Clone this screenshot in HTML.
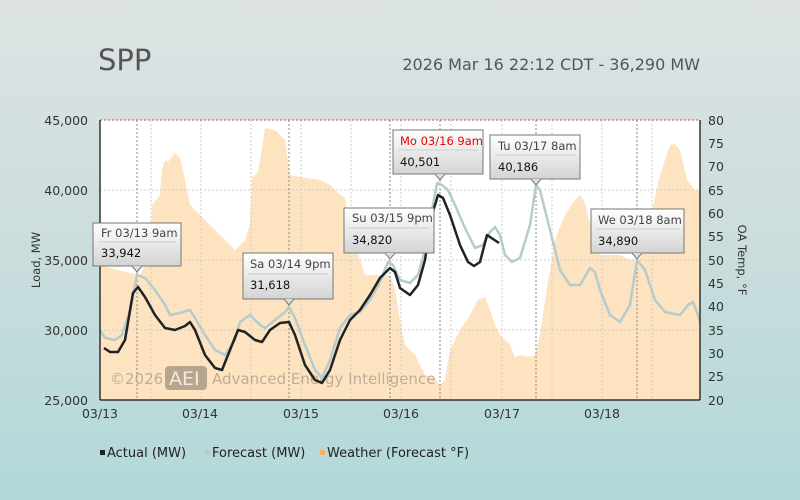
<!DOCTYPE html>
<html><head><style>
body{margin:0;width:800px;height:500px;overflow:hidden;background:linear-gradient(#dde3e3,#cfdede 40%,#b2d8d8);font-family:"DejaVu Sans",sans-serif;}
</style></head><body>
<svg width="800" height="500" style="position:absolute;left:0;top:0" font-family="DejaVu Sans, sans-serif">
<defs><linearGradient id="tg" x1="0" y1="0" x2="0" y2="1"><stop offset="0" stop-color="#fff"/><stop offset="1" stop-color="#d4d4d4"/></linearGradient></defs>
<text x="98" y="70" font-size="29" fill="#555">SPP</text>
<text x="700" y="70" font-size="16" fill="#555" text-anchor="end">2026 Mar 16 22:12 CDT - 36,290 MW</text>
<rect x="100" y="120" width="600" height="280" fill="#fff"/>
<polygon fill="#fde3c0" points="100,400 100,265 125,272 140,275 150,255 152,205 160,195 162,170 165,160 168,162 175,153 180,158 185,180 190,205 200,215 215,230 235,250 245,240 250,225 252,178 258,172 262,150 265,128 275,130 285,140 290,175 305,178 320,180 330,185 340,195 345,198 348,215 355,245 365,275 380,275 390,275 395,290 400,320 405,345 415,355 425,375 435,378 440,385 445,380 450,350 460,330 470,315 478,300 485,297 490,310 495,325 500,335 510,345 515,357 520,355 530,357 535,355 540,335 545,300 555,240 565,215 575,200 580,195 585,203 590,225 600,255 620,255 630,260 640,258 650,220 660,175 670,145 675,144 680,150 687,180 695,190 700,190 700,400"/>
<g stroke="#ccc" stroke-dasharray="2,2" stroke-width="1">
<line x1="100" y1="190" x2="700" y2="190"/><line x1="100" y1="260" x2="700" y2="260"/><line x1="100" y1="330" x2="700" y2="330"/>
<line x1="151" y1="120" x2="151" y2="400"/><line x1="201" y1="120" x2="201" y2="400"/><line x1="251" y1="120" x2="251" y2="400"/><line x1="301" y1="120" x2="301" y2="400"/><line x1="351" y1="120" x2="351" y2="400"/><line x1="401" y1="120" x2="401" y2="400"/><line x1="451" y1="120" x2="451" y2="400"/><line x1="502" y1="120" x2="502" y2="400"/><line x1="552" y1="120" x2="552" y2="400"/><line x1="602" y1="120" x2="602" y2="400"/><line x1="652" y1="120" x2="652" y2="400"/>
</g>
<g stroke="#888" stroke-dasharray="2,2"><line x1="137" y1="120" x2="137" y2="400"/><line x1="289" y1="120" x2="289" y2="400"/><line x1="390" y1="120" x2="390" y2="400"/><line x1="440" y1="120" x2="440" y2="400"/><line x1="536" y1="120" x2="536" y2="400"/><line x1="637" y1="120" x2="637" y2="400"/></g>
<line x1="100" y1="120" x2="700" y2="120" stroke="#c44" stroke-dasharray="2,2"/>
<g font-size="15" fill="#b0a090" opacity="0.8"><text x="110" y="384">©2026</text><rect x="165" y="366" width="42" height="24" rx="4" fill="#a89880"/><text x="169" y="385" font-size="19" fill="#eee">AEI</text><text x="212" y="384">Advanced Energy Intelligence</text></g>
<polyline fill="none" stroke="#b5cccc" stroke-width="2.5" stroke-linejoin="round" points="100,330 105,338 115,340 122,335 130,310 137,275 145,278 155,290 165,305 170,315 180,313 190,310 195,318 205,335 215,350 225,355 235,340 240,322 250,315 260,325 265,328 275,320 285,312 289,307 295,318 305,345 315,370 322,378 330,360 340,328 350,315 360,312 370,300 380,282 388,262 393,265 400,280 410,283 418,275 425,250 432,210 437,183 442,185 448,190 455,205 465,228 475,248 483,245 490,232 495,227 500,235 505,255 512,262 520,258 530,225 536,185 540,190 550,230 560,270 570,285 580,285 590,268 595,272 600,290 610,315 620,322 630,305 637,260 645,270 655,300 665,312 680,315 688,305 693,302 698,315 700,322"/>
<polyline fill="none" stroke="#222" stroke-width="2.5" stroke-linejoin="round" points="104,348 110,352 118,352 125,340 133,293 138,287 145,297 155,315 165,328 175,330 185,326 190,322 195,330 205,355 215,368 222,370 230,350 238,330 245,332 255,340 262,342 270,330 280,323 289,322 295,335 305,365 315,380 322,383 330,370 340,340 350,320 360,310 370,295 380,278 390,268 395,272 400,288 410,295 418,285 425,260 432,215 438,195 443,198 450,215 460,245 468,262 474,266 480,262 487,235 490,237 499,243"/>
<g stroke="#333" stroke-width="1.5"><line x1="100" y1="120" x2="100" y2="400"/><line x1="700" y1="120" x2="700" y2="400"/><line x1="100" y1="400" x2="700" y2="400"/></g>
<g font-size="12.5" fill="#333" text-anchor="end"><text x="88" y="125">45,000</text><text x="88" y="195">40,000</text><text x="88" y="265">35,000</text><text x="88" y="335">30,000</text><text x="88" y="405">25,000</text></g>
<g font-size="12.5" fill="#333"><text x="708" y="125">80</text><text x="708" y="148">75</text><text x="708" y="171">70</text><text x="708" y="195">65</text><text x="708" y="218">60</text><text x="708" y="241">55</text><text x="708" y="265">50</text><text x="708" y="288">45</text><text x="708" y="311">40</text><text x="708" y="335">35</text><text x="708" y="358">30</text><text x="708" y="381">25</text><text x="708" y="405">20</text></g>
<g font-size="12.5" fill="#333" text-anchor="middle"><text x="100" y="418">03/13</text><text x="200" y="418">03/14</text><text x="301" y="418">03/15</text><text x="401" y="418">03/16</text><text x="502" y="418">03/17</text><text x="602" y="418">03/18</text></g>
<text transform="translate(40,260) rotate(-90)" font-size="11.5" fill="#333" text-anchor="middle">Load, MW</text>
<text transform="translate(738,260) rotate(90)" font-size="11.5" fill="#333" text-anchor="middle">OA Temp, °F</text>
<g font-size="11.5">
<g><rect x="93" y="223" width="88" height="43" fill="url(#tg)" stroke="#777"/><line x1="98" y1="242" x2="176" y2="242" stroke="#ccc"/><path d="M132,266 L137,272 L142,266" fill="#ddd" stroke="#777"/><text x="101" y="237" fill="#444">Fr 03/13 9am</text><text x="101" y="257" fill="#111">33,942</text></g>
<g><rect x="243" y="253" width="90" height="46" fill="url(#tg)" stroke="#777"/><line x1="248" y1="274" x2="328" y2="274" stroke="#ccc"/><path d="M284,299 L289,305 L294,299" fill="#ddd" stroke="#777"/><text x="250" y="268" fill="#444">Sa 03/14 9pm</text><text x="250" y="289" fill="#111">31,618</text></g>
<g><rect x="344" y="208" width="90" height="45" fill="url(#tg)" stroke="#777"/><line x1="349" y1="228" x2="429" y2="228" stroke="#ccc"/><path d="M385,253 L390,259 L395,253" fill="#ddd" stroke="#777"/><text x="352" y="222" fill="#444">Su 03/15 9pm</text><text x="352" y="244" fill="#111">34,820</text></g>
<g><rect x="393" y="130" width="90" height="44" fill="url(#tg)" stroke="#777"/><line x1="398" y1="150" x2="478" y2="150" stroke="#ccc"/><path d="M435,174 L440,180 L445,174" fill="#ddd" stroke="#777"/><text x="400" y="145" fill="#e00">Mo 03/16 9am</text><text x="400" y="166" fill="#111">40,501</text></g>
<g><rect x="490" y="135" width="90" height="44" fill="url(#tg)" stroke="#777"/><line x1="495" y1="155" x2="575" y2="155" stroke="#ccc"/><path d="M531,179 L536,185 L541,179" fill="#ddd" stroke="#777"/><text x="498" y="150" fill="#444">Tu 03/17 8am</text><text x="498" y="171" fill="#111">40,186</text></g>
<g><rect x="591" y="209" width="93" height="44" fill="url(#tg)" stroke="#777"/><line x1="596" y1="229" x2="679" y2="229" stroke="#ccc"/><path d="M632,253 L637,259 L642,253" fill="#ddd" stroke="#777"/><text x="598" y="224" fill="#444">We 03/18 8am</text><text x="598" y="245" fill="#111">34,890</text></g>
</g>
<g font-size="13" fill="#222"><rect x="100" y="450" width="5" height="5" fill="#222"/><text x="107" y="457">Actual (MW)</text><rect x="205" y="450" width="5" height="5" fill="#b5cccc"/><text x="212" y="457">Forecast (MW)</text><rect x="320" y="450" width="5" height="5" fill="#f5b060"/><text x="327" y="457">Weather (Forecast °F)</text></g>
</svg>
</body></html>
